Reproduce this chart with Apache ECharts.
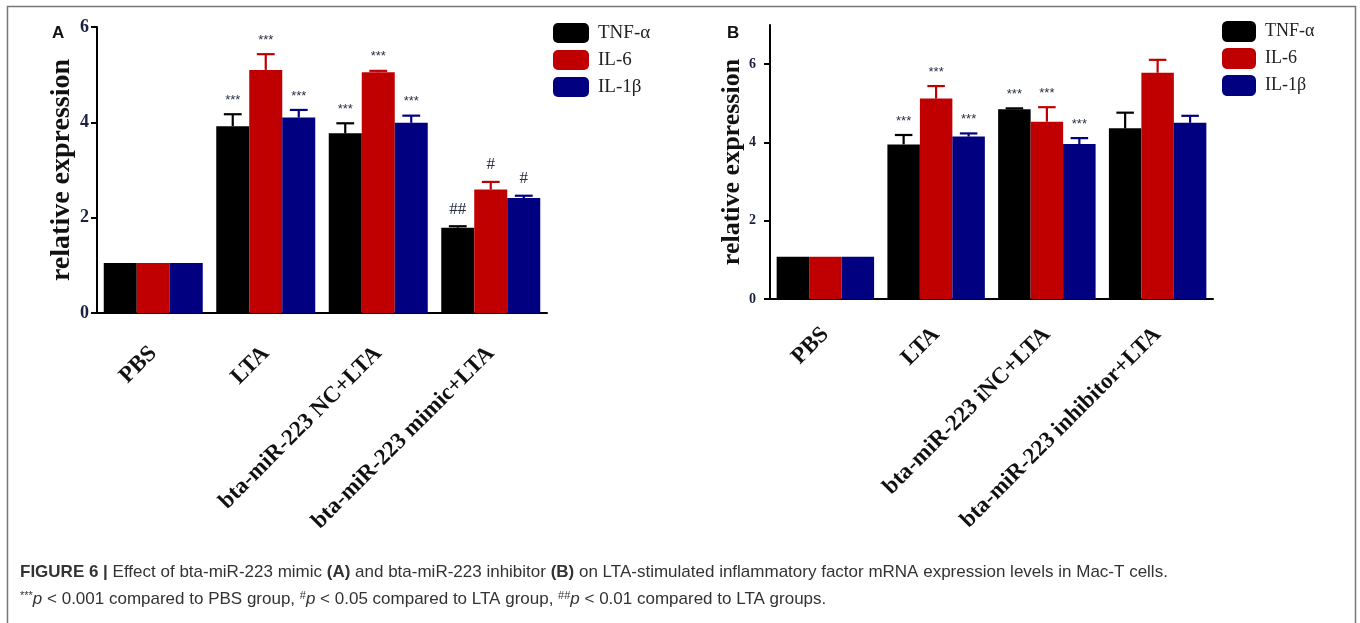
<!DOCTYPE html>
<html>
<head>
<meta charset="utf-8">
<script src="https://cdn.jsdelivr.net/npm/echarts@6.0.0/dist/echarts.min.js"></script>
<style>
html,body{margin:0;padding:0;background:#fff;}
#chart{width:1360px;height:623px;}
</style>
</head>
<body>
<div id="chart"></div>
<script>
// ---------- DATA ----------
const seriesNames = ['TNF-α', 'IL-6', 'IL-1β'];
const categoriesA = ['PBS', 'LTA', 'bta-miR-223 NC+LTA', 'bta-miR-223 mimic+LTA'];
const categoriesB = ['PBS', 'LTA', 'bta-miR-223 iNC+LTA', 'bta-miR-223 inhibitor+LTA'];
const yTicksA = [0, 2, 4, 6];
const yTicksB = [0, 2, 4, 6];

// Panel A (mean and upper error-bar end)
const tnfA       = [1.05, 3.92, 3.77, 1.79];
const tnfAErr    = [1.05, 4.17, 3.98, 1.82];
const il6A       = [1.05, 5.10, 5.05, 2.59];
const il6AErr    = [1.05, 5.43, 5.08, 2.75];
const il1bA      = [1.05, 4.10, 3.99, 2.41];
const il1bAErr   = [1.05, 4.26, 4.14, 2.46];
const sigTnfA    = ['', '***', '***', '##'];
const sigIl6A    = ['', '***', '***', '#'];
const sigIl1bA   = ['', '***', '***', '#'];

// Panel B
const tnfB       = [1.08, 3.95, 4.85, 4.36];
const tnfBErr    = [1.08, 4.19, 4.87, 4.76];
const il6B       = [1.08, 5.12, 4.53, 5.78];
const il6BErr    = [1.08, 5.44, 4.90, 6.11];
const il1bB      = [1.08, 4.15, 3.96, 4.50];
const il1bBErr   = [1.08, 4.23, 4.11, 4.68];
const sigTnfB    = ['', '***', '***', ''];
const sigIl6B    = ['', '***', '***', ''];
const sigIl1bB   = ['', '***', '***', ''];

// ---------- STYLE ----------
const colors = ['#000000', '#C00000', '#000080'];
const GAP = 0.12;
const serif = 'Liberation Serif';

function buildErr(vals, errs, sigs) {
  const data = [], labels = [];
  for (let s = 0; s < 3; s++) {
    for (let c = 0; c < vals[s].length; c++) {
      data.push([c, s, vals[s][c], errs[s][c]]);
      labels.push(sigs[s][c]);
    }
  }
  return { data, labels };
}
const errA = buildErr([tnfA, il6A, il1bA], [tnfAErr, il6AErr, il1bAErr], [sigTnfA, sigIl6A, sigIl1bA]);
const errB = buildErr([tnfB, il6B, il1bB], [tnfBErr, il6BErr, il1bBErr], [sigTnfB, sigIl6B, sigIl1bB]);

function makeRender(labels, sigFont) {
  return function (params, api) {
    const c = api.value(0), s = api.value(1), v = api.value(2), e = api.value(3);
    const band = api.size([1, 0])[0];
    const bw = band * (1 - GAP) / 3;
    const cx = api.coord([c, 0])[0] + (s - 1) * bw;
    const yV = api.coord([c, v])[1];
    const yE = api.coord([c, e])[1];
    const children = [];
    if (e > v + 0.005) {
      children.push({ type: 'line', shape: { x1: cx, y1: yV, x2: cx, y2: yE }, style: { stroke: colors[s], lineWidth: 2.2 } });
      children.push({ type: 'line', shape: { x1: cx - bw * 0.27, y1: yE, x2: cx + bw * 0.27, y2: yE }, style: { stroke: colors[s], lineWidth: 2.2 } });
    }
    const lab = labels[params.dataIndex];
    if (lab) {
      const isHash = lab.indexOf('#') >= 0;
      children.push({
        type: 'text',
        style: {
          x: cx, y: yE - (isHash ? 17 : 14), text: lab,
          align: 'center', verticalAlign: 'middle',
          font: isHash ? sigFont.hash : sigFont.star,
          fill: '#2a2f45'
        }
      });
    }
    return { type: 'group', children };
  };
}

function xAxisCfg(grid, cats, fontSize, margin) {
  return {
    type: 'category', gridIndex: grid, data: cats,
    axisLine: { lineStyle: { color: '#000', width: 2 } },
    axisTick: { alignWithLabel: true, length: 12, lineStyle: { color: '#000', width: 2 } },
    axisLabel: { rotate: 45, margin: margin, interval: 0, color: '#111', fontFamily: serif, fontWeight: 'bold', fontSize: fontSize }
  };
}
function yAxisCfg(grid, max, ticks, fontSize, margin, nameSize, nameGap) {
  return {
    type: 'value', gridIndex: grid, min: 0, max: max, interval: 2,
    name: 'relative expression', nameLocation: 'middle', nameGap: nameGap, nameRotate: 90,
    nameTextStyle: { fontFamily: serif, fontWeight: 'bold', fontSize: nameSize, color: '#111' },
    axisLine: { show: true, lineStyle: { color: '#000', width: 2 } },
    axisTick: { show: true, length: 6, lineStyle: { color: '#000', width: 2 }, customValues: ticks },
    axisLabel: { margin: margin, color: '#1a2040', fontFamily: serif, fontWeight: 'bold', fontSize: fontSize, customValues: ticks },
    splitLine: { show: false }
  };
}
function barSeries(name, data, idx, axisIdx) {
  return {
    type: 'bar', name: name, data: data, xAxisIndex: axisIdx, yAxisIndex: axisIdx,
    barGap: '0%', barCategoryGap: (GAP * 100) + '%',
    itemStyle: { color: colors[idx] }, z: 2
  };
}
function legendCfg(left, top, w, h, gap, size) {
  return {
    data: seriesNames, left: left, top: top, orient: 'vertical', selectedMode: false, padding: 0,
    icon: 'roundRect', itemWidth: w, itemHeight: h, itemGap: gap,
    textStyle: { fontFamily: serif, fontSize: size, color: '#222', padding: [0, 0, 0, 4] }
  };
}

const chart = echarts.init(document.getElementById('chart'), null, { renderer: 'canvas' });
chart.setOption({
  backgroundColor: '#fff',
  animation: false,
  grid: [
    { left: 97, top: 27, width: 450, height: 286 },
    { left: 770, top: 25, width: 443, height: 274 }
  ],
  legend: [
    legendCfg(553, 23, 36, 20, 7, 19),
    legendCfg(1222, 21, 34, 21, 6, 18)
  ],
  xAxis: [xAxisCfg(0, categoriesA, 23, 37), xAxisCfg(1, categoriesB, 23, 32)],
  yAxis: [yAxisCfg(0, 6, yTicksA, 18, 8, 28, 21), yAxisCfg(1, 7, yTicksB, 14, 14, 26, 19)],
  series: [
    barSeries(seriesNames[0], tnfA, 0, 0),
    barSeries(seriesNames[1], il6A, 1, 0),
    barSeries(seriesNames[2], il1bA, 2, 0),
    barSeries(seriesNames[0], tnfB, 0, 1),
    barSeries(seriesNames[1], il6B, 1, 1),
    barSeries(seriesNames[2], il1bB, 2, 1),
    { type: 'custom', xAxisIndex: 0, yAxisIndex: 0, data: errA.data, encode: { x: 0, y: [2, 3] },
      renderItem: makeRender(errA.labels, { star: '13px Liberation Sans', hash: '17px Liberation Serif' }), z: 3 },
    { type: 'custom', xAxisIndex: 1, yAxisIndex: 1, data: errB.data, encode: { x: 0, y: [2, 3] },
      renderItem: makeRender(errB.labels, { star: '13px Liberation Sans', hash: '17px Liberation Serif' }), z: 3 }
  ],
  graphic: [
    { type: 'rect', shape: { x: 7.5, y: 6.5, width: 1348, height: 700 }, style: { fill: 'none', stroke: '#777', lineWidth: 1.5 }, silent: true },
    { type: 'text', left: 52, top: 25, style: { text: 'A', font: 'bold 17px Liberation Sans', fill: '#111' } },
    { type: 'text', left: 727, top: 25, style: { text: 'B', font: 'bold 17px Liberation Sans', fill: '#111' } },
    { type: 'text', left: 20, top: 564, style: {
      text: '{b|FIGURE 6 |} Effect of bta-miR-223 mimic {b|(A)} and bta-miR-223 inhibitor {b|(B)} on LTA-stimulated inflammatory factor mRNA expression levels in Mac-T cells.',
      font: '17px Liberation Sans', fill: '#333',
      rich: { b: { font: 'bold 17px Liberation Sans', fill: '#333' } }
    } },
    { type: 'text', left: 20, top: 590, style: {
      text: '{s|***}{i|p} < 0.001 compared to PBS group, {s|#}{i|p} < 0.05 compared to LTA group, {s|##}{i|p} < 0.01 compared to LTA groups.',
      font: '17px Liberation Sans', fill: '#333',
      rich: { i: { font: 'italic 17px Liberation Sans', fill: '#333' }, s: { font: '11px Liberation Sans', fill: '#333', verticalAlign: 'top', padding: [0, 0, 7, 0] } }
    } }
  ]
});
</script>
</body>
</html>
